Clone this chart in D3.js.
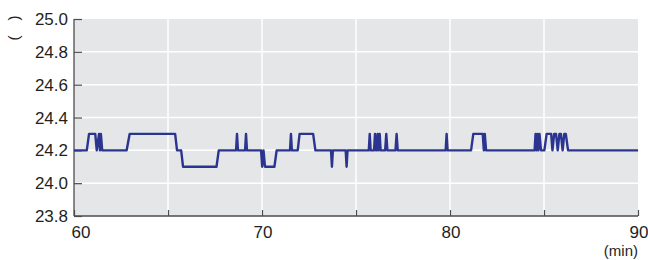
<!DOCTYPE html>
<html>
<head>
<meta charset="utf-8">
<script src="https://cdn.jsdelivr.net/npm/d3@7"></script>
<style>
	body { margin: 0; background: #fff; }
	text { font-family: "Liberation Sans", Arial, sans-serif; fill: #231f20; }
</style>
</head>
<body>
<div id="chart"></div>
<script>
// time (min) and temperature readings
var times = [60.00, 60.68, 60.80, 61.13, 61.21, 61.33, 61.38, 61.43, 61.50,
	62.80, 62.96, 65.38, 65.48, 65.70, 65.80, 67.58, 67.70,
	68.62, 68.67, 68.72, 69.10, 69.15, 69.20,
	69.95, 70.01, 70.08, 70.16, 70.66, 70.78,
	71.49, 71.54, 71.59, 71.90, 72.00, 72.72, 72.84,
	73.67, 73.72, 73.77, 74.45, 74.50, 74.55,
	75.68, 75.73, 75.78, 75.96, 76.01, 76.06, 76.10, 76.15, 76.20, 76.26, 76.31,
	76.55, 76.61, 76.67, 77.10, 77.16, 77.22,
	79.77, 79.82, 79.87,
	81.12, 81.24, 81.74, 81.80, 81.85, 81.92,
	84.50, 84.55, 84.60, 84.65, 84.70, 84.76, 84.84,
	85.02, 85.14, 85.38, 85.45, 85.54, 85.64, 85.73, 85.82, 85.90, 85.99, 86.08, 86.16, 86.28,
	90.00];
var temps = [24.2, 24.2, 24.3, 24.3, 24.2, 24.3, 24.2, 24.3, 24.2,
	24.2, 24.3, 24.3, 24.2, 24.2, 24.1, 24.1, 24.2,
	24.2, 24.3, 24.2, 24.2, 24.3, 24.2,
	24.2, 24.1, 24.2, 24.1, 24.1, 24.2,
	24.2, 24.3, 24.2, 24.2, 24.3, 24.3, 24.2,
	24.2, 24.1, 24.2, 24.2, 24.1, 24.2,
	24.2, 24.3, 24.2, 24.2, 24.3, 24.2, 24.2, 24.3, 24.2, 24.3, 24.2,
	24.2, 24.3, 24.2, 24.2, 24.3, 24.2,
	24.2, 24.3, 24.2,
	24.2, 24.3, 24.3, 24.2, 24.3, 24.2,
	24.2, 24.3, 24.2, 24.3, 24.2, 24.3, 24.2,
	24.2, 24.3, 24.3, 24.2, 24.3, 24.3, 24.2, 24.3, 24.3, 24.2, 24.3, 24.3, 24.2,
	24.2];

var yTicks = [23.8, 24.0, 24.2, 24.4, 24.6, 24.8, 25.0];
var xTicks = [60, 65, 70, 75, 80, 85, 90];
var xLabels = [60, 70, 80, 90];

var margin = {top: 19, right: 10, bottom: 44, left: 74};
var width = 648 - margin.left - margin.right;
var height = 260 - margin.top - margin.bottom;

var x = d3.scaleLinear().domain([60, 90]).range([0, width]);
var y = d3.scaleLinear().domain([23.8, 25.0]).range([height, 0]);

var svg = d3.select("#chart").append("svg")
	.attr("width", 648)
	.attr("height", 260);

var g = svg.append("g")
	.attr("transform", "translate(" + margin.left + "," + margin.top + ")");

g.append("rect")
	.attr("width", width)
	.attr("height", height)
	.style("fill", "#e5e6e8");

// grid
g.selectAll(".hgrid")
	.data(yTicks.slice(1, -1))
	.enter().append("line")
	.attr("x1", 0).attr("x2", width)
	.attr("y1", function(d) { return y(d); })
	.attr("y2", function(d) { return y(d); })
	.style("stroke", "#fff").style("stroke-width", 1.5);

g.selectAll(".vgrid")
	.data(xTicks.slice(1, -1))
	.enter().append("line")
	.attr("y1", 0).attr("y2", height)
	.attr("x1", function(d) { return x(d); })
	.attr("x2", function(d) { return x(d); })
	.style("stroke", "#fff").style("stroke-width", 1.5);

// inward ticks
var yAxis = d3.axisRight(y).tickValues(yTicks).tickSize(8).tickFormat("");
var xAxis = d3.axisTop(x).tickValues(xTicks).tickSize(6).tickFormat("");

g.append("g").attr("class", "axis").call(yAxis);
g.append("g").attr("class", "axis")
	.attr("transform", "translate(0," + height + ")")
	.call(xAxis);
g.selectAll(".axis path").remove();
g.selectAll(".axis line").style("stroke", "#4d4d4f").style("stroke-width", 1.2);

// axis lines
g.append("line")
	.attr("x1", 0).attr("x2", 0).attr("y1", 0).attr("y2", height)
	.style("stroke", "#4d4d4f").style("stroke-width", 1.3);
g.append("line")
	.attr("x1", 0).attr("x2", width).attr("y1", height).attr("y2", height)
	.style("stroke", "#4d4d4f").style("stroke-width", 1.3);

// tick labels
g.selectAll(".ylab")
	.data(yTicks)
	.enter().append("text")
	.attr("x", -6)
	.attr("y", function(d) { return y(d); })
	.attr("dy", "0.36em")
	.style("text-anchor", "end")
	.style("font-size", "17px")
	.text(function(d) { return d.toFixed(1); });

g.selectAll(".xlab")
	.data(xLabels)
	.enter().append("text")
	.attr("x", function(d, i) { return x(d) + (i === 0 ? 7 : 1); })
	.attr("y", height + 22)
	.style("text-anchor", "middle")
	.style("font-size", "17px")
	.text(function(d) { return d; });

g.append("text")
	.attr("x", width)
	.attr("y", height + 40)
	.style("text-anchor", "end")
	.style("font-size", "15px")
	.text("(min)");

svg.append("text")
	.attr("transform", "translate(19,28) rotate(-90)")
	.style("text-anchor", "middle")
	.style("font-size", "15px")
	.text("(\u2003)");

// line
var pts = times.map(function(t, i) { return [t, temps[i]]; });
var line = d3.line()
	.x(function(d) { return x(d[0]); })
	.y(function(d) { return y(d[1]); });

g.append("path")
	.datum(pts)
	.attr("d", line)
	.style("fill", "none")
	.style("stroke", "#2b3590")
	.style("stroke-width", 2.4)
	.style("stroke-linejoin", "round");
</script>
</body>
</html>
